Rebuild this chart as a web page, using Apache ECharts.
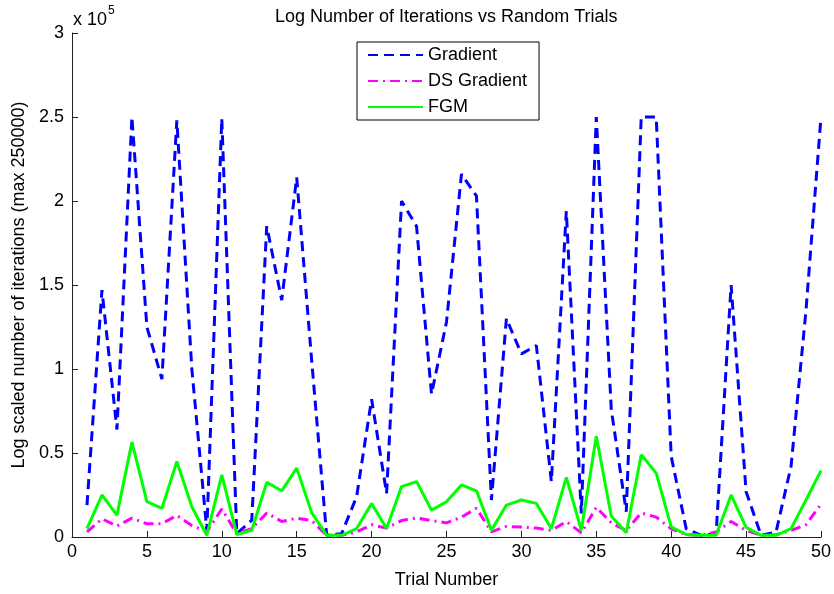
<!DOCTYPE html>
<html>
<head>
<meta charset="utf-8">
<script src="https://cdn.jsdelivr.net/npm/echarts@6/dist/echarts.min.js"></script>
<style>
html,body{margin:0;padding:0;background:#fff;}
#c{width:834px;height:594px;}
</style>
</head>
<body>
<div id="c"></div>
<script>
const trials = [1,2,3,4,5,6,7,8,9,10,11,12,13,14,15,16,17,18,19,20,21,22,23,24,25,26,27,28,29,30,31,32,33,34,35,36,37,38,39,40,41,42,43,44,45,46,47,48,49,50];
const gradient = [19000,147000,64000,250000,125000,94000,248000,100000,4000,249000,
  2000,10000,185000,141000,214000,105000,1000,2000,24000,82000,
  26000,200000,185000,85000,128000,216000,203000,22000,130000,109000,
  114000,33000,194000,14000,250000,76000,15000,250000,250000,48000,
  5000,1000,2000,150000,27000,1000,3000,42000,135000,250000];
const dsGradient = [3000,10800,6500,11200,7900,7900,12800,6900,3000,16700,
  2000,5000,14300,9200,11200,9800,1000,1000,3000,7300,
  5300,9800,11400,9800,8400,11800,17100,3000,6300,5900,
  5300,3900,9200,2500,17700,8400,3900,14300,11800,4900,
  1400,1000,3000,9200,3900,1000,1400,3900,7300,19600];
const fgm = [5000,25000,13000,56500,21000,17000,45000,18000,1000,37000,
  1500,4000,32500,27500,41000,14500,1000,1000,5000,20000,
  5000,30000,33000,16000,21000,31000,27500,4000,19000,22000,
  20000,5000,35500,4000,60000,12500,2500,49000,38000,6000,
  1500,1000,1000,25000,5700,1000,1000,5000,22000,39500];
const seriesNames = ['Gradient','DS Gradient','FGM'];
const yTicks = [0,50000,100000,150000,200000,250000,300000];
const xTicks = [0,5,10,15,20,25,30,35,40,45,50];

const pairs = arr => trials.map((t,i)=>[t,arr[i]]);
const FONT = '"Liberation Sans", Arial, Helvetica, sans-serif';
const chart = echarts.init(document.getElementById('c'));
chart.setOption({
  animation:false,
  backgroundColor:'#fff',
  textStyle:{fontFamily:FONT,color:'#000'},
  title:{text:'Log Number of Iterations vs Random Trials',left:270,top:3,
    textStyle:{fontFamily:FONT,fontSize:18,fontWeight:'normal',color:'#000'}},
  grid:{left:72,right:12,top:33,bottom:52,containLabel:false},
  legend:{orient:'vertical',left:357,top:42,padding:[4,12,4,10],itemGap:8,
    itemWidth:55,itemHeight:14,
    itemStyle:{opacity:0,color:'rgba(0,0,0,0)',borderWidth:0},
    borderColor:'#000',borderWidth:1,backgroundColor:'#fff',
    textStyle:{fontFamily:FONT,fontSize:18,color:'#000'},
    data:seriesNames},
  xAxis:{type:'value',min:xTicks[0],max:xTicks[xTicks.length-1],interval:5,
    name:'Trial Number',nameLocation:'middle',nameGap:34,
    nameTextStyle:{fontFamily:FONT,fontSize:18,color:'#000'},
    axisLine:{lineStyle:{color:'#222',width:1}},
    axisTick:{inside:true,length:6,lineStyle:{color:'#222'}},
    axisLabel:{fontFamily:FONT,fontSize:18,color:'#000',margin:6},
    splitLine:{show:false}},
  yAxis:{type:'value',min:yTicks[0],max:yTicks[yTicks.length-1],interval:50000,
    name:'Log scaled number of iterations (max 250000)',nameLocation:'middle',nameGap:40,
    nameTextStyle:{fontFamily:FONT,fontSize:18,color:'#000'},
    axisLine:{show:true,lineStyle:{color:'#222',width:1}},
    axisTick:{show:true,inside:true,length:6,lineStyle:{color:'#222'}},
    axisLabel:{fontFamily:FONT,fontSize:18,color:'#000',margin:8,formatter:v=>String(v/100000)},
    splitLine:{show:false}},
  graphic:[
    {type:'text',left:73,top:11,style:{text:'x 10',fontFamily:FONT,fontSize:18,fill:'#000'}},
    {type:'text',left:108,top:5,style:{text:'5',fontFamily:FONT,fontSize:12,fill:'#000'}}
  ],
  series:[
    {name:seriesNames[0],type:'line',data:pairs(gradient),symbol:'none',
      lineStyle:{color:'#0000ff',width:3,type:[10,6]},itemStyle:{color:'#0000ff'}},
    {name:seriesNames[1],type:'line',data:pairs(dsGradient),symbol:'none',
      lineStyle:{color:'#ff00ff',width:3,type:[10,5,2,5]},itemStyle:{color:'#ff00ff'}},
    {name:seriesNames[2],type:'line',data:pairs(fgm),symbol:'none',
      lineStyle:{color:'#00ff00',width:3,type:'solid'},itemStyle:{color:'#00ff00'}}
  ]
});
</script>
</body>
</html>
